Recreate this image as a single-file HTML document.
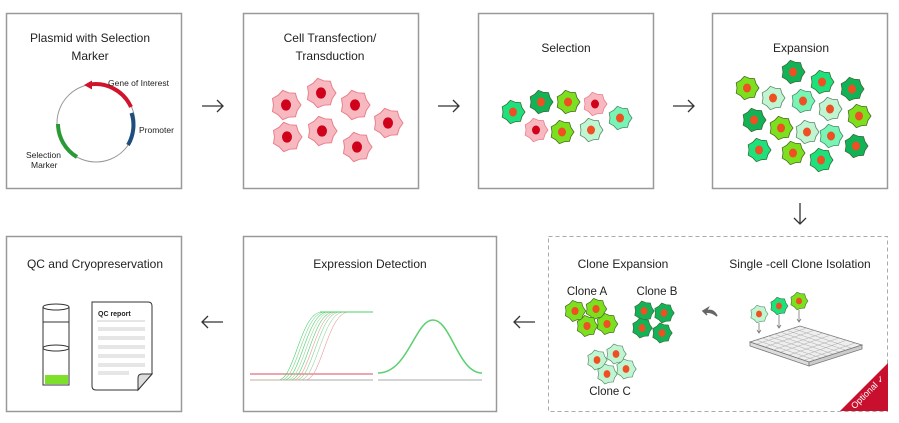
<!DOCTYPE html>
<html><head><meta charset="utf-8"><style>
html,body{margin:0;padding:0;background:#fff}
svg{display:block}
text{font-family:"Liberation Sans",sans-serif;fill:#222}
</style></head><body>
<svg width="899" height="423" viewBox="0 0 899 423" xmlns="http://www.w3.org/2000/svg">
<defs>
<symbol id="c" viewBox="-13 -13 26 26" overflow="visible">
<polygon points="12,0 9,4.34 7.48,9.38 2.23,9.75 -2.67,11.7 -6.23,7.82 -10.81,5.2 -10,0 -10.81,-5.2 -6.23,-7.82 -2.67,-11.7 2.23,-9.75 7.48,-9.38 9,-4.34"/>
</symbol>
<g id="pk"><use href="#c" x="-13" y="-13" width="26" height="26" fill="#f8b8c0" stroke="#e8808c" stroke-width="0.8"/><ellipse cx="0" cy="0" rx="4" ry="4.5" fill="#d0021b"/></g>
<g id="dk"><use href="#c" x="-13" y="-13" width="26" height="26" fill="#12b256" stroke="#3a6a3a" stroke-width="0.8"/><ellipse rx="4" ry="4.5" fill="#f04e23"/></g>
<g id="md"><use href="#c" x="-13" y="-13" width="26" height="26" fill="#1de27c" stroke="#3a6a3a" stroke-width="0.8"/><ellipse rx="4" ry="4.5" fill="#f04e23"/></g>
<g id="lm"><use href="#c" x="-13" y="-13" width="26" height="26" fill="#7de01e" stroke="#4a6a2a" stroke-width="0.8"/><ellipse rx="4" ry="4.5" fill="#f04e23"/></g>
<g id="lt"><use href="#c" x="-13" y="-13" width="26" height="26" fill="#c0f5d2" stroke="#5a8a6a" stroke-width="0.8"/><ellipse rx="4" ry="4.5" fill="#f04e23"/></g>
<g id="mt"><use href="#c" x="-13" y="-13" width="26" height="26" fill="#78f5b4" stroke="#4a8a6a" stroke-width="0.8"/><ellipse rx="4" ry="4.5" fill="#f04e23"/></g>
</defs>

<g fill="none" stroke="#999" stroke-width="1.5">
<rect x="6.5" y="13.5" width="175" height="175"/>
<rect x="243.5" y="13.5" width="175" height="175"/>
<rect x="478.5" y="13.5" width="175" height="175"/>
<rect x="712.5" y="13.5" width="175" height="175"/>
<rect x="6.5" y="236.5" width="175" height="175"/>
<rect x="243.5" y="236.5" width="253" height="175"/>
</g>
<rect x="548.5" y="236.5" width="339" height="175" fill="none" stroke="#aaa" stroke-width="1" stroke-dasharray="4,3"/>

<g font-size="12" text-anchor="middle">
<text x="90" y="42">Plasmid with Selection</text>
<text x="90" y="60">Marker</text>
<text x="330" y="42">Cell Transfection/</text>
<text x="330" y="60">Transduction</text>
<text x="566" y="52">Selection</text>
<text x="801" y="52">Expansion</text>
<text x="95" y="268">QC and Cryopreservation</text>
<text x="370" y="268">Expression Detection</text>
<text x="623" y="268">Clone Expansion</text>
<text x="800" y="268">Single -cell Clone Isolation</text>
</g>

<!-- plasmid -->
<circle cx="96" cy="123" r="39" fill="none" stroke="#999" stroke-width="1"/>
<path d="M88,84.8 A39,39 0 0 1 131,107" fill="none" stroke="#d0142c" stroke-width="4"/>
<polygon points="84,85 92,80.5 92,89.5" fill="#d0142c"/>
<path d="M131.5,113 A39,39 0 0 1 128,145" fill="none" stroke="#1d4e7e" stroke-width="4"/>
<path d="M58,124 A39,39 0 0 0 77,157" fill="none" stroke="#2a9a36" stroke-width="4"/>
<g font-size="8.5" fill="#222">
<text x="108" y="86">Gene of Interest</text>
<text x="139" y="133">Promoter</text>
<text x="26" y="158">Selection</text>
<text x="31" y="168">Marker</text>
</g>

<!-- arrows -->
<g fill="none" stroke="#333" stroke-width="1.3">
<path d="M202,106 H223 M217,100 L223,106 L217,112"/>
<path d="M438,106 H459 M453,100 L459,106 L453,112"/>
<path d="M673,106 H694 M688,100 L694,106 L688,112"/>
<path d="M800,203 V224 M794,218 L800,224 L806,218"/>
<path d="M202,322 H223 M208,316 L202,322 L208,328"/>
<path d="M514,322 H535 M520,316 L514,322 L520,328"/>
</g>
<path d="M717,316 C714,310 709,309 706,312 L708,308 L703,311 L707,315 L705,313 C709,311 713,313 717,316Z" fill="#666" stroke="#666" stroke-width="1.5"/>

<!-- transfection cells -->
<g transform="translate(286,105) scale(1.25)"><use href="#pk"/></g>
<g transform="translate(321,93) scale(1.25)"><use href="#pk"/></g>
<g transform="translate(355,105) scale(1.25)"><use href="#pk"/></g>
<g transform="translate(388,123) scale(1.25)"><use href="#pk"/></g>
<g transform="translate(287,137) scale(1.25)"><use href="#pk"/></g>
<g transform="translate(322,131) scale(1.25)"><use href="#pk"/></g>
<g transform="translate(357,147) scale(1.25)"><use href="#pk"/></g>

<!-- selection -->
<use href="#md" transform="translate(513,112)"/>
<use href="#dk" transform="translate(541,102)"/>
<use href="#lm" transform="translate(568,102)"/>
<use href="#pk" transform="translate(595,104)"/>
<use href="#mt" transform="translate(620,118)"/>
<use href="#pk" transform="translate(536,130)"/>
<use href="#lm" transform="translate(562,132)"/>
<use href="#lt" transform="translate(591,130)"/>

<!-- expansion -->
<use href="#dk" transform="translate(793,72)"/>
<use href="#md" transform="translate(822,82)"/>
<use href="#dk" transform="translate(852,89)"/>
<use href="#lm" transform="translate(747,88)"/>
<use href="#lt" transform="translate(773,98)"/>
<use href="#mt" transform="translate(803,101)"/>
<use href="#lt" transform="translate(830,109)"/>
<use href="#lm" transform="translate(859,116)"/>
<use href="#dk" transform="translate(754,120)"/>
<use href="#lm" transform="translate(781,128)"/>
<use href="#lt" transform="translate(807,132)"/>
<use href="#mt" transform="translate(831,136)"/>
<use href="#dk" transform="translate(856,146)"/>
<use href="#md" transform="translate(759,150)"/>
<use href="#lm" transform="translate(793,153)"/>
<use href="#md" transform="translate(821,160)"/>

<!-- clone expansion -->
<g font-size="11.5" text-anchor="middle">
<text x="587" y="295">Clone A</text>
<text x="657" y="295">Clone B</text>
<text x="610" y="395">Clone C</text>
</g>
<use href="#lm" transform="translate(575,311) scale(0.9)"/>
<use href="#lm" transform="translate(596,309) scale(0.9)"/>
<use href="#lm" transform="translate(587,326) scale(0.9)"/>
<use href="#lm" transform="translate(607,324) scale(0.9)"/>
<use href="#dk" transform="translate(644,311) scale(0.85)"/>
<use href="#dk" transform="translate(664,313) scale(0.85)"/>
<use href="#dk" transform="translate(642,328) scale(0.85)"/>
<use href="#dk" transform="translate(662,333) scale(0.85)"/>
<use href="#lt" transform="translate(597,360) scale(0.85)"/>
<use href="#lt" transform="translate(616,354) scale(0.85)"/>
<use href="#lt" transform="translate(607,374) scale(0.85)"/>
<use href="#lt" transform="translate(626,369) scale(0.85)"/>

<!-- single cell isolation -->
<use href="#lt" transform="translate(759,314) scale(0.75)"/>
<use href="#md" transform="translate(779,306) scale(0.75)"/>
<use href="#lm" transform="translate(799,301) scale(0.75)"/>
<g stroke="#777" stroke-width="0.8" fill="none">
<path d="M759,323 V333 M757,330 L759,333 L761,330"/>
<path d="M779,315 V328 M777,325 L779,328 L781,325"/>
<path d="M799,310 V322 M797,319 L799,322 L801,319"/>
</g>
<polygon points="750,342 800,326 862,345 809,362" fill="#eee" stroke="#777" stroke-width="0.8"/>
<polygon points="750,342 809,362 809,366 750,346" fill="#ddd" stroke="#777" stroke-width="0.8"/>
<polygon points="809,362 862,345 862,349 809,366" fill="#ccc" stroke="#777" stroke-width="0.8"/>
<g stroke="#aaa" stroke-width="0.5">
<path d="M756,340 L815,360 M762,338 L821,358 M768,336 L827,356 M774,334 L833,354 M780,332 L839,352 M786,330 L845,350 M792,328 L851,348"/>
<path d="M757,344 L807,328 M765,347 L815,330 M773,350 L823,333 M781,352 L831,335 M789,355 L839,338 M797,358 L847,340 M805,360 L855,343"/>
</g>
<polygon points="840,411 888,363 888,411" fill="#c8102e"/>
<text x="870" y="394" font-size="9" style="fill:#fff" transform="rotate(-45 870 394)" text-anchor="middle">Optional ✓</text>

<!-- QC -->
<g fill="none" stroke="#333" stroke-width="1">
<ellipse cx="56" cy="307" rx="13" ry="3"/>
<path d="M43,307 V385 H69 V307"/>
<path d="M43,322 H69"/>
<ellipse cx="56" cy="348" rx="13" ry="3"/>
</g>
<rect x="45" y="375" width="23" height="9" fill="#7ee02a"/>
<path d="M92,302 H148 Q152,302 152,306 V374 L138,390 H96 Q92,390 92,386 Z" fill="#fff" stroke="#333" stroke-width="1"/>
<path d="M152,374 H142 Q138,374 138,378 V390 Z" fill="#ddd" stroke="#333" stroke-width="1"/>
<text x="98" y="316" font-size="7" font-weight="bold">QC report</text>
<line x1="97" y1="321" x2="145" y2="321" stroke="#999" stroke-width="0.6"/>
<g fill="#e6e6e6">
<rect x="98" y="327" width="47" height="4"/><rect x="98" y="336" width="47" height="4"/>
<rect x="98" y="345" width="47" height="4"/><rect x="98" y="354" width="47" height="4"/>
<rect x="98" y="363" width="47" height="4"/><rect x="98" y="371" width="31" height="4"/>
</g>

<!-- expression -->
<line x1="250" y1="380" x2="373" y2="380" stroke="#aaa" stroke-width="1"/>
<line x1="378" y1="380" x2="482" y2="380" stroke="#aaa" stroke-width="1"/>
<line x1="250" y1="374" x2="373" y2="374" stroke="#e07080" stroke-width="1.3"/>
<g fill="none" stroke-width="0.6">
<path d="M250,380 H278 C295,380 300,312 322,312 H373" stroke="#4cd06a"/>
<path d="M250,380 H281 C298,380 303,312 325,312 H373" stroke="#7ad68a"/>
<path d="M250,380 H284 C301,380 306,312 328,312 H373" stroke="#4cd06a"/>
<path d="M250,380 H287 C304,380 309,312 331,312 H373" stroke="#9ad6a0"/>
<path d="M250,380 H290 C307,380 312,312 334,312 H373" stroke="#4cd06a"/>
<path d="M250,380 H293 C310,380 315,312 337,312 H373" stroke="#e89aa0"/>
<path d="M250,380 H296 C313,380 318,312 340,312 H373" stroke="#7ad68a"/>
<path d="M250,380 H300 C317,380 322,312 344,312 H373" stroke="#9ad6a0"/>
<path d="M250,380 H305 C322,380 327,312 349,312 H373" stroke="#e89aa0"/>
</g>
<line x1="320" y1="312" x2="373" y2="312" stroke="#4cd06a" stroke-width="1"/>
<path d="M378,373 C408,373 415,320 433,320 C451,320 458,373 482,373" fill="none" stroke="#5ad070" stroke-width="1.5"/>
</svg>
</body></html>
